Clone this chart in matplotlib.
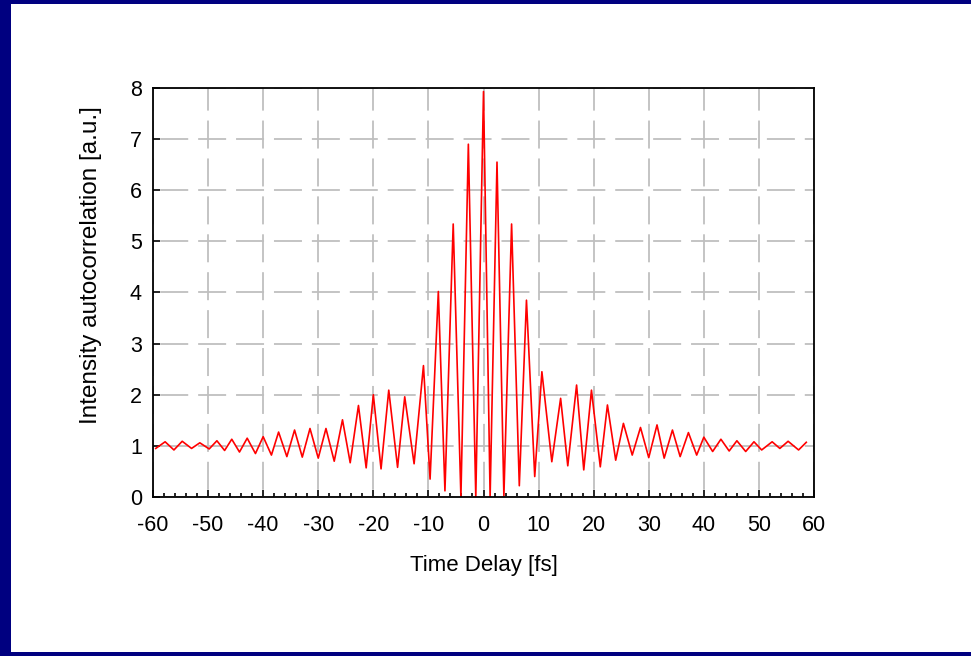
import numpy as np
import matplotlib.pyplot as plt
from matplotlib.patches import Rectangle

# extrema of the fringe pattern (delay in fs, intensity a.u.)
delay = [-59.5, -57.8, -56.2, -54.7, -53.0, -51.5, -49.8, -48.4, -47.0, -45.7,
         -44.3, -42.9, -41.4, -40.0, -38.5, -37.2, -35.7, -34.3, -32.9, -31.5,
         -30.0, -28.6, -27.1, -25.6, -24.2, -22.7, -21.3, -20.0, -18.6, -17.2,
         -15.6, -14.3, -12.6, -10.9, -9.7, -8.2, -7.0, -5.5, -4.1, -2.75,
         -1.4, 0.0, 1.2, 2.45, 3.7, 5.1, 6.5, 7.8, 9.3, 10.6,
         12.4, 14.0, 15.3, 16.9, 18.2, 19.6, 21.2, 22.5, 24.0, 25.4,
         27.0, 28.5, 30.0, 31.5, 32.8, 34.3, 35.7, 37.2, 38.7, 40.0,
         41.6, 43.1, 44.6, 46.0, 47.6, 49.1, 50.5, 52.4, 53.8, 55.3,
         57.2, 58.6]
intensity = [0.95, 1.08, 0.92, 1.09, 0.95, 1.06, 0.94, 1.10, 0.91, 1.13,
             0.88, 1.15, 0.85, 1.18, 0.82, 1.27, 0.79, 1.31, 0.78, 1.34,
             0.76, 1.34, 0.70, 1.51, 0.67, 1.79, 0.57, 2.00, 0.55, 2.09,
             0.58, 1.96, 0.65, 2.57, 0.35, 4.02, 0.12, 5.34, 0.0, 6.90,
             0.0, 7.93, 0.0, 6.55, 0.02, 5.34, 0.22, 3.85, 0.40, 2.45,
             0.69, 1.93, 0.61, 2.19, 0.53, 2.09, 0.59, 1.80, 0.72, 1.44,
             0.82, 1.36, 0.77, 1.41, 0.76, 1.31, 0.79, 1.26, 0.82, 1.17,
             0.89, 1.13, 0.90, 1.10, 0.89, 1.08, 0.92, 1.08, 0.95, 1.09,
             0.92, 1.07]

xticks = np.arange(-60, 61, 10)
yticks = np.arange(0, 9, 1)

plt.rcParams['font.family'] = ['Liberation Sans', 'DejaVu Sans']
plt.rcParams['axes.unicode_minus'] = False

fig = plt.figure(figsize=(9.71, 6.56), dpi=100, facecolor='#000080')
fig.patches.append(Rectangle((11 / 971, 4 / 656), 1.0, 648 / 656,
                             transform=fig.transFigure, facecolor='white',
                             edgecolor='none', zorder=-5))

ax = fig.add_axes([153 / 971, 159 / 656, 661 / 971, 409 / 656])
ax.set_zorder(2)
ax.plot(delay, intensity, color='red', linewidth=1.2, clip_on=True)

ax.set_xlim(-60, 60)
ax.set_ylim(0, 8)
ax.set_xticks(xticks)
ax.set_yticks(yticks)
ax.set_xticks(np.arange(-60, 61, 2), minor=True)
ax.tick_params(axis='both', which='major', direction='in', length=5, width=1.2,
               labelsize=15.5, colors='black')
ax.tick_params(axis='x', which='major', pad=13)
ax.tick_params(axis='y', which='major', pad=8)
ax.tick_params(axis='x', which='minor', direction='in', length=3, width=1.2)
ax.tick_params(top=False, right=False)
for s in ax.spines.values():
    s.set_linewidth(1.3)

ax.grid(True, which='major', color='#bfbfbf', linewidth=1.3,
        linestyle=(17, (15.5, 5.5)))
ax.set_axisbelow(True)

ax.set_xlabel('Time Delay [fs]', fontsize=16, labelpad=14)
ax.set_ylabel('Intensity autocorrelation [a.u.]', fontsize=17.5)
ax.yaxis.set_label_coords(-0.077, 0.567)

fig.savefig('out.png', dpi=100, facecolor=fig.get_facecolor())
